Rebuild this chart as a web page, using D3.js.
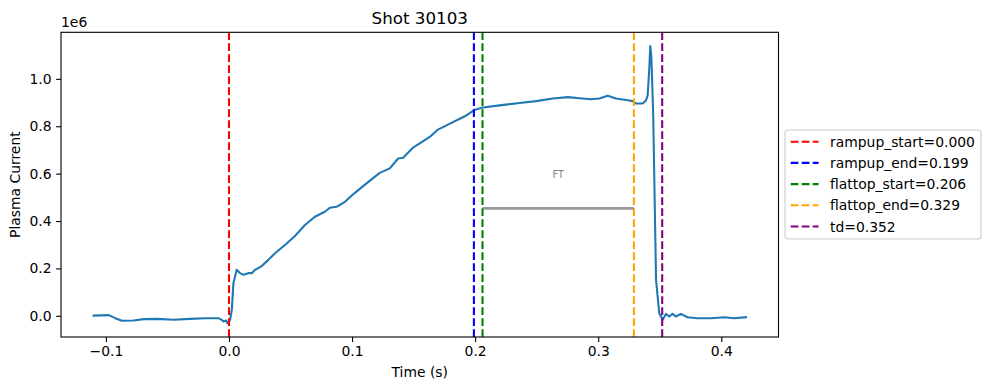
<!DOCTYPE html>
<html><head><meta charset="utf-8">
<script src="https://cdn.jsdelivr.net/npm/d3@7"></script>
<style>body{margin:0;background:#fff}svg{display:block;font-family:"DejaVu Sans",sans-serif}</style>
</head><body><svg id="c" width="989" height="390"></svg>
<script>
const times = [-0.11,-0.0978,-0.0924,-0.087,-0.0775,-0.0694,-0.0586,-0.045,-0.0315,-0.0194,-0.0086,-0.0059,-0.0045,-0.0024,-0.0013,0.0009,0.0023,0.0036,0.0063,0.009,0.0117,0.0157,0.0185,0.0212,0.0266,0.032,0.0374,0.0455,0.0536,0.0617,0.0698,0.0779,0.082,0.0874,0.0942,0.1023,0.1158,0.1225,0.1307,0.1374,0.1415,0.1496,0.1631,0.1698,0.1795,0.1917,0.1998,0.2064,0.2199,0.2361,0.2496,0.2631,0.2753,0.2848,0.2942,0.301,0.3077,0.3145,0.3253,0.328,0.3307,0.3361,0.3388,0.3402,0.3415,0.3423,0.3431,0.3437,0.3447,0.3456,0.347,0.3478,0.3496,0.3524,0.355,0.3577,0.3604,0.3631,0.3672,0.3726,0.3807,0.3915,0.4023,0.4104,0.42];
const currentMA = [0.001,0.003,-0.01,-0.021,-0.02,-0.014,-0.013,-0.017,-0.013,-0.01,-0.01,-0.017,-0.024,-0.02,-0.031,-0.017,0.025,0.138,0.194,0.18,0.173,0.18,0.18,0.194,0.21,0.236,0.264,0.299,0.337,0.383,0.418,0.439,0.456,0.46,0.481,0.519,0.576,0.603,0.622,0.664,0.667,0.71,0.755,0.786,0.811,0.842,0.87,0.879,0.888,0.898,0.906,0.917,0.923,0.918,0.914,0.917,0.929,0.917,0.909,0.906,0.896,0.896,0.909,0.93,1.043,1.138,1.099,1.015,0.846,0.573,0.152,0.109,0.011,-0.017,0.008,-0.003,0.008,-0.003,0.008,-0.006,-0.01,-0.01,-0.006,-0.01,-0.006];
const markerNames = ["rampup_start","rampup_end","flattop_start","flattop_end","td"];
const markerTimes = [0.000,0.199,0.206,0.329,0.352];
const markerColors = ["red","blue","green","orange","purple"];
const xTicks = [-0.1,0.0,0.1,0.2,0.3,0.4];
const yTicks = [0.0,0.2,0.4,0.6,0.8,1.0];
const ftLabel = "FT";
const ftLevel = 0.453;
const ftTextLevel = 0.594;
const titleText = "Shot 30103";

const svg = d3.select("#c");
const L=61, R=778.5, T=32.3, B=337;
const xmin=d3.min(times), xmax=d3.max(times), xs=(xmax-xmin)*0.05;
const ymin=d3.min(currentMA), ymax=d3.max(currentMA), ys=(ymax-ymin)*0.05;
const x=d3.scaleLinear().domain([xmin-xs,xmax+xs]).range([L,R]);
const y=d3.scaleLinear().domain([ymin-ys,ymax+ys]).range([B,T]);

const clip=svg.append("clipPath").attr("id","pc").append("rect").attr("x",L).attr("y",T).attr("width",R-L).attr("height",B-T);
const g=svg.append("g").attr("clip-path","url(#pc)");

// data line
g.append("path").datum(times.map((t,i)=>[t,currentMA[i]]))
 .attr("d",d3.line().x(d=>x(d[0])).y(d=>y(d[1])))
 .attr("fill","none").attr("stroke","#1f77b4").attr("stroke-width",2.08).attr("stroke-linejoin","round").attr("stroke-linecap","square");

// vertical markers
markerTimes.forEach((t,i)=>{
  g.append("line").attr("x1",x(t)).attr("x2",x(t)).attr("y1",T).attr("y2",B)
   .attr("stroke",markerColors[i]).attr("stroke-width",2.08).attr("stroke-dasharray","7.7,3.3");
});
// FT bar
g.append("line").attr("x1",x(markerTimes[2])).attr("x2",x(markerTimes[3])).attr("y1",y(ftLevel)).attr("y2",y(ftLevel))
 .attr("stroke","gray").attr("stroke-opacity",0.8).attr("stroke-width",2.8);
svg.append("text").attr("x",x((markerTimes[2]+markerTimes[3])/2)).attr("y",y(ftTextLevel)).attr("dy","0.35em")
 .attr("text-anchor","middle").attr("font-size",9.7).attr("fill","gray").text(ftLabel);

// frame
svg.append("rect").attr("x",L).attr("y",T).attr("width",R-L).attr("height",B-T).attr("fill","none").attr("stroke","#000").attr("stroke-width",1.1);

// axes
const xa=svg.append("g").attr("transform",`translate(0,${B})`)
 .call(d3.axisBottom(x).tickValues(xTicks).tickSize(4.9).tickPadding(4.5).tickFormat(d=>d3.format(".1f")(d).replace("-","\u2212")));
const ya=svg.append("g").attr("transform",`translate(${L},0)`)
 .call(d3.axisLeft(y).tickValues(yTicks).tickSize(4.9).tickPadding(4.5).tickFormat(d3.format(".1f")));
[xa,ya].forEach(a=>{a.select(".domain").remove();a.selectAll("text").attr("font-size",13.9).attr("fill","#000").attr("font-family","DejaVu Sans");a.selectAll("line").attr("stroke","#000").attr("stroke-width",1.1);});

svg.append("text").attr("x",L).attr("y",T-5).attr("font-size",13.9).text("1e6");
svg.append("text").attr("x",(L+R)/2).attr("y",T-8).attr("text-anchor","middle").attr("font-size",16.7).text(titleText);
svg.append("text").attr("x",(L+R)/2).attr("y",377).attr("text-anchor","middle").attr("font-size",13.9).text("Time (s)");
svg.append("text").attr("transform",`translate(20,${(T+B)/2}) rotate(-90)`).attr("text-anchor","middle").attr("font-size",13.9).text("Plasma Current");

// legend
const lg=svg.append("g");
lg.append("rect").attr("x",785).attr("y",130).attr("width",196).attr("height",109).attr("rx",3)
 .attr("fill","#fff").attr("fill-opacity",0.8).attr("stroke","#ccc").attr("stroke-width",1.1);
markerNames.forEach((n,i)=>{
  const yy=141.7+i*21.2;
  lg.append("line").attr("x1",790.7).attr("x2",818.5).attr("y1",yy).attr("y2",yy).attr("stroke",markerColors[i]).attr("stroke-width",2.08).attr("stroke-dasharray","7.7,3.3");
  lg.append("text").attr("x",830).attr("y",yy).attr("dy","0.36em").attr("font-size",13.9).text(`${n}=${d3.format(".3f")(markerTimes[i])}`);
});
</script></body></html>
